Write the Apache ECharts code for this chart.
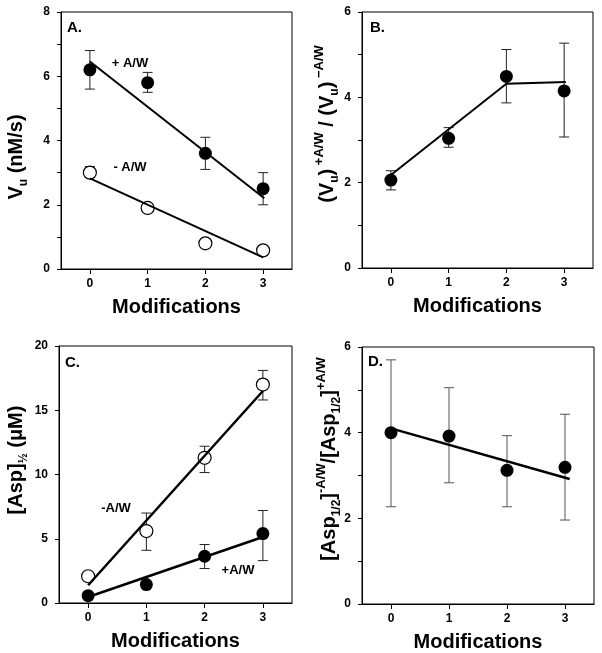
<!DOCTYPE html>
<html>
<head>
<meta charset="utf-8">
<script src="https://cdn.jsdelivr.net/npm/echarts@6/dist/echarts.min.js"></script>
<style>
html,body{margin:0;padding:0;background:#fff;}
#chart{width:602px;height:653px;}
</style>
</head>
<body>
<div id="chart"></div>
<script>
// ---------- data ----------
const modifications = [0, 1, 2, 3];
const xTickValues = [0, 1, 2, 3];

// Panel A: Vu (nM/s)
const aPlusVals = [6.2, 5.8, 3.6, 2.5];
const aPlusLow  = [5.6, 5.5, 3.1, 2.0];
const aPlusHigh = [6.8, 6.12, 4.1, 3.0];
const aMinusVals = [3.0, 1.9, 0.8, 0.58];
const aMinusLow  = [3.0, null, null, null];
const aMinusHigh = [3.19, null, null, null];
const aPlusFitX = [0, 3.02];
const aPlusFitY = [6.46, 2.2];
const aMinusFitX = [0, 3];
const aMinusFitY = [2.82, 0.36];

// Panel B: (Vu)+A/W / (Vu)-A/W
const bVals = [2.06, 3.04, 4.49, 4.15];
const bLow  = [1.83, 2.83, 3.87, 3.07];
const bHigh = [2.28, 3.29, 5.12, 5.27];
const bFitX = [0, 2, 3.03];
const bFitY = [2.18, 4.32, 4.36];

// Panel C: [Asp]1/2 (uM)
const cMinusVals = [2.08, 5.6, 11.3, 17.0];
const cMinusLow  = [null, 4.1, 10.15, 15.8];
const cMinusHigh = [null, 7.0, 12.2, 18.1];
const cPlusVals = [0.57, 1.43, 3.64, 5.4];
const cPlusLow  = [null, null, 2.68, 3.3];
const cPlusHigh = [null, null, 4.55, 7.2];
const cMinusFitX = [0, 3];
const cMinusFitY = [1.38, 16.5];
const cPlusFitX = [0, 3];
const cPlusFitY = [0.47, 5.14];

// Panel D: ratio
const dVals = [4.0, 3.92, 3.12, 3.19];
const dLow  = [2.27, 2.83, 2.27, 1.96];
const dHigh = [5.7, 5.05, 3.93, 4.43];
const dFitX = [0, 3.08];
const dFitY = [4.1, 2.92];

// y axis settings
const yMax = [8, 6, 20, 6];
const yInterval = [2, 2, 5, 2];
const yMinor = [true, true, false, true];

// ---------- helpers ----------
const FF = '"Liberation Sans", Arial, Helvetica, sans-serif';
const pairs = (xs, ys) => xs.map((x, i) => [x, ys[i]]);
const errRows = (xs, lo, hi) => xs.map((x, i) => [x, lo[i], hi[i]]).filter(r => r[1] != null && r[2] != null);

function errSeries(idx, rows, color) {
  return {
    type: 'custom', xAxisIndex: idx, yAxisIndex: idx, silent: true, z: 2,
    data: rows,
    renderItem: function (params, api) {
      const x = api.value(0), lo = api.value(1), hi = api.value(2);
      const pHi = api.coord([x, hi]);
      const pLo = api.coord([x, lo]);
      const w = 5;
      const st = { stroke: color, lineWidth: 1 };
      return {
        type: 'group',
        children: [
          { type: 'line', shape: { x1: pHi[0], y1: pHi[1], x2: pLo[0], y2: pLo[1] }, style: st },
          { type: 'line', shape: { x1: pHi[0] - w, y1: pHi[1], x2: pHi[0] + w, y2: pHi[1] }, style: st },
          { type: 'line', shape: { x1: pLo[0] - w, y1: pLo[1], x2: pLo[0] + w, y2: pLo[1] }, style: st }
        ]
      };
    }
  };
}
function dotSeries(idx, ys, open) {
  return {
    type: 'scatter', xAxisIndex: idx, yAxisIndex: idx, z: 3, silent: true,
    data: pairs(modifications, ys), symbolSize: 13,
    itemStyle: open ? { color: '#fff', borderColor: '#000', borderWidth: 1.2, opacity: 1 } : { color: '#000', opacity: 1 }
  };
}
function fitSeries(idx, xs, ys, w) {
  return {
    type: 'line', xAxisIndex: idx, yAxisIndex: idx, z: 4, silent: true,
    data: pairs(xs, ys), showSymbol: false, symbol: 'none',
    lineStyle: { color: '#000', width: w }
  };
}

const grids = [
  { left: 61, top: 12, width: 231, height: 257 },
  { left: 362, top: 12, width: 231, height: 256 },
  { left: 59, top: 346, width: 233, height: 257 },
  { left: 362, top: 347, width: 232, height: 258 }
].map(g => Object.assign(g, { show: true, borderColor: '#000', borderWidth: 1, backgroundColor: 'transparent' }));

const xAxes = [0, 1, 2, 3].map(i => ({
  type: 'value', gridIndex: i, min: -0.5, max: 3.5,
  axisLine: { show: true, onZero: false, lineStyle: { color: '#000', width: 1 } },
  axisTick: { show: true, customValues: xTickValues, length: 5, inside: false, lineStyle: { color: '#000' } },
  axisLabel: { show: true, customValues: xTickValues, fontSize: 12, fontWeight: 'bold', color: '#000', margin: 9, fontFamily: FF },
  splitLine: { show: false },
  name: 'Modifications', nameLocation: 'middle', nameGap: 28,
  nameTextStyle: { fontSize: 20, fontWeight: 'bold', color: '#000', fontFamily: FF }
}));

const yAxes = [0, 1, 2, 3].map(i => ({
  type: 'value', gridIndex: i, min: 0, max: yMax[i], interval: yInterval[i],
  axisLine: { show: true, onZero: false, lineStyle: { color: '#000', width: 1 } },
  axisTick: { show: true, length: 4, inside: false, lineStyle: { color: '#000' } },
  minorTick: { show: yMinor[i], splitNumber: 2, length: 4, lineStyle: { color: '#000' } },
  axisLabel: { fontSize: 12, fontWeight: 'bold', color: '#000', margin: 11, fontFamily: FF },
  splitLine: { show: false }, minorSplitLine: { show: false }
}));

const series = [
  // A
  errSeries(0, errRows(modifications, aPlusLow, aPlusHigh), '#222'),
  errSeries(0, errRows(modifications, aMinusLow, aMinusHigh), '#222'),
  dotSeries(0, aPlusVals, false),
  dotSeries(0, aMinusVals, true),
  fitSeries(0, aPlusFitX, aPlusFitY, 2),
  fitSeries(0, aMinusFitX, aMinusFitY, 2),
  // B
  errSeries(1, errRows(modifications, bLow, bHigh), '#222'),
  dotSeries(1, bVals, false),
  fitSeries(1, bFitX, bFitY, 2),
  // C
  errSeries(2, errRows(modifications, cMinusLow, cMinusHigh), '#222'),
  errSeries(2, errRows(modifications, cPlusLow, cPlusHigh), '#222'),
  dotSeries(2, cMinusVals, true),
  dotSeries(2, cPlusVals, false),
  fitSeries(2, cMinusFitX, cMinusFitY, 2.5),
  fitSeries(2, cPlusFitX, cPlusFitY, 2.5),
  // D
  errSeries(3, errRows(modifications, dLow, dHigh), '#555'),
  dotSeries(3, dVals, false),
  fitSeries(3, dFitX, dFitY, 2.5)
];

const big = { fontSize: 20, fontWeight: 'bold', fontFamily: FF, color: '#000', lineHeight: 28, verticalAlign: 'middle' };
const sub = { fontSize: 12, fontWeight: 'bold', fontFamily: FF, color: '#000', lineHeight: 12, verticalAlign: 'bottom' };
const sup = { fontSize: 13, fontWeight: 'bold', fontFamily: FF, color: '#000', lineHeight: 13, verticalAlign: 'top' };
const richSet = { b: big, s: sub, p: sup };

function yTitle(x, y, text) {
  return {
    type: 'text', x: x, y: y, rotation: Math.PI / 2, silent: true,
    style: { text: text, rich: richSet, align: 'center', verticalAlign: 'middle' }
  };
}
function plainText(x, y, text, size, align) {
  return {
    type: 'text', x: x, y: y, silent: true,
    style: { text: text, fontSize: size, fontWeight: 'bold', fontFamily: FF, fill: '#000', align: align || 'left', verticalAlign: 'middle' }
  };
}

const graphics = [
  yTitle(16, 157, '{b|V}{s|u}{b| (nM/s)}'),
  yTitle(327, 124, '{b|(V}{s|u}{b|)}{p| +A/W}{b| / (V}{s|u}{b|)}{p| \u2212A/W}'),
  yTitle(16, 460, '{b|[Asp]}{s|\u00BD}{b| (\u03BCM)}'),
  yTitle(329, 459, '{b|[Asp}{s|1/2}{b|]}{p|-A/W}{b|/[Asp}{s|1/2}{b|]}{p|+A/W}'),
  plainText(67, 28, 'A.', 15),
  plainText(370, 28, 'B.', 15),
  plainText(65, 363, 'C.', 15),
  plainText(368, 362, 'D.', 15),
  plainText(130, 63, '+ A/W', 13, 'center'),
  plainText(130, 167, '- A/W', 13, 'center'),
  plainText(116, 508, '-A/W', 13, 'center'),
  plainText(238, 570, '+A/W', 13, 'center')
];

const chart = echarts.init(document.getElementById('chart'), null, { renderer: 'canvas' });
chart.setOption({
  animation: false,
  backgroundColor: '#fff',
  grid: grids,
  xAxis: xAxes,
  yAxis: yAxes,
  series: series,
  graphic: graphics
});
</script>
</body>
</html>
